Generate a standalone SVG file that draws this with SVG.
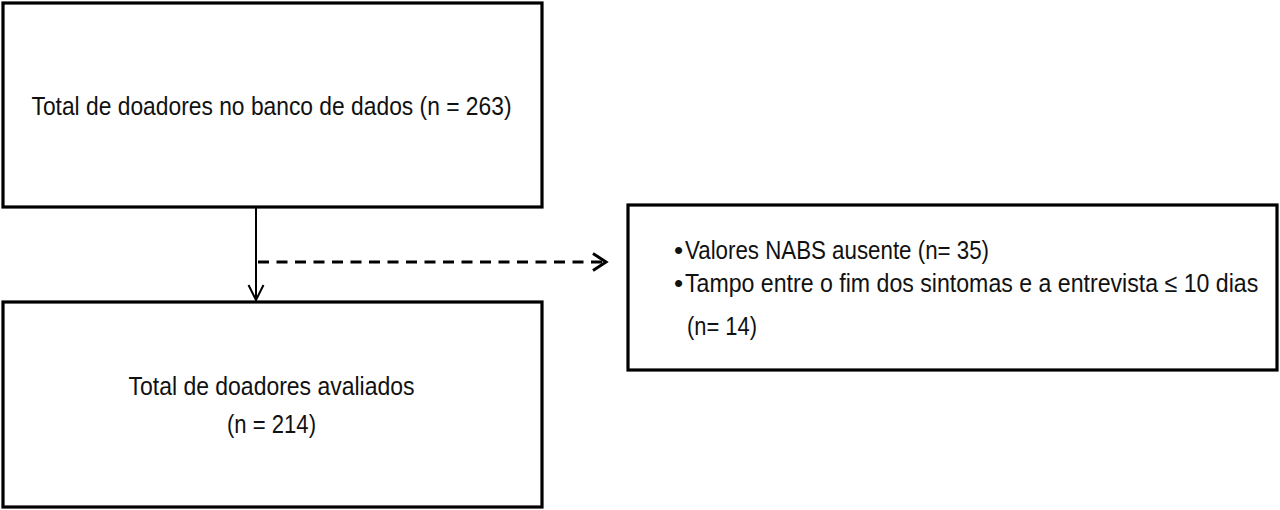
<svg xmlns="http://www.w3.org/2000/svg" width="1280" height="510" viewBox="0 0 1280 510">
<style>
.box{fill:#fff;stroke:#000;stroke-width:3.2}
.t{font-family:"Liberation Sans",Arial,sans-serif;font-size:26px;fill:#111}
.conn{fill:none;stroke:#000}
</style>
<defs>
<marker id="ahDown" markerUnits="userSpaceOnUse" viewBox="-16 -10 18 20" refX="0" refY="0" markerWidth="18" markerHeight="20" orient="auto" overflow="visible">
<path d="M-15,-7.5 L0,0 L-15,7.5" fill="none" stroke="#000" stroke-width="2"/>
</marker>
<marker id="ahRight" markerUnits="userSpaceOnUse" viewBox="-16 -10 18 20" refX="0" refY="0" markerWidth="18" markerHeight="20" orient="auto" overflow="visible">
<path d="M-13,-8.5 L0,0 L-13,8.5" fill="none" stroke="#000" stroke-width="3"/>
</marker>
</defs>
<rect width="1280" height="510" fill="#fff"/>
<g id="connectors">
<line class="conn" x1="256" y1="207" x2="256" y2="300" stroke-width="2" marker-end="url(#ahDown)"/>
<line class="conn" x1="258" y1="262" x2="606" y2="262" stroke-width="3" stroke-dasharray="11 7.5" marker-end="url(#ahRight)"/>
</g>
<g id="node-total">
<rect class="box" x="3" y="3" width="539" height="204"/>
<text class="t" x="31.5" y="115" textLength="480" lengthAdjust="spacingAndGlyphs">Total de doadores no banco de dados (n = 263)</text>
</g>
<g id="node-avaliados">
<rect class="box" x="3" y="302" width="539" height="205"/>
<text class="t" x="128.5" y="395" textLength="286" lengthAdjust="spacingAndGlyphs">Total de doadores avaliados</text>
<text class="t" x="227" y="433" textLength="89" lengthAdjust="spacingAndGlyphs">(n = 214)</text>
</g>
<g id="node-excluidos">
<rect class="box" x="628" y="205" width="649" height="165"/>
<text class="t" x="674" y="259">•</text>
<text class="t" x="685" y="259" textLength="304" lengthAdjust="spacingAndGlyphs">Valores NABS ausente (n= 35)</text>
<text class="t" x="674" y="292">•</text>
<text class="t" transform="translate(685,292) scale(0.886,1)" x="0" y="0" textLength="647" lengthAdjust="spacingAndGlyphs">Tampo entre o fim dos sintomas e a entrevista ≤ 10 dias</text>
<text class="t" x="687" y="335" textLength="70" lengthAdjust="spacingAndGlyphs">(n= 14)</text>
</g>
</svg>
